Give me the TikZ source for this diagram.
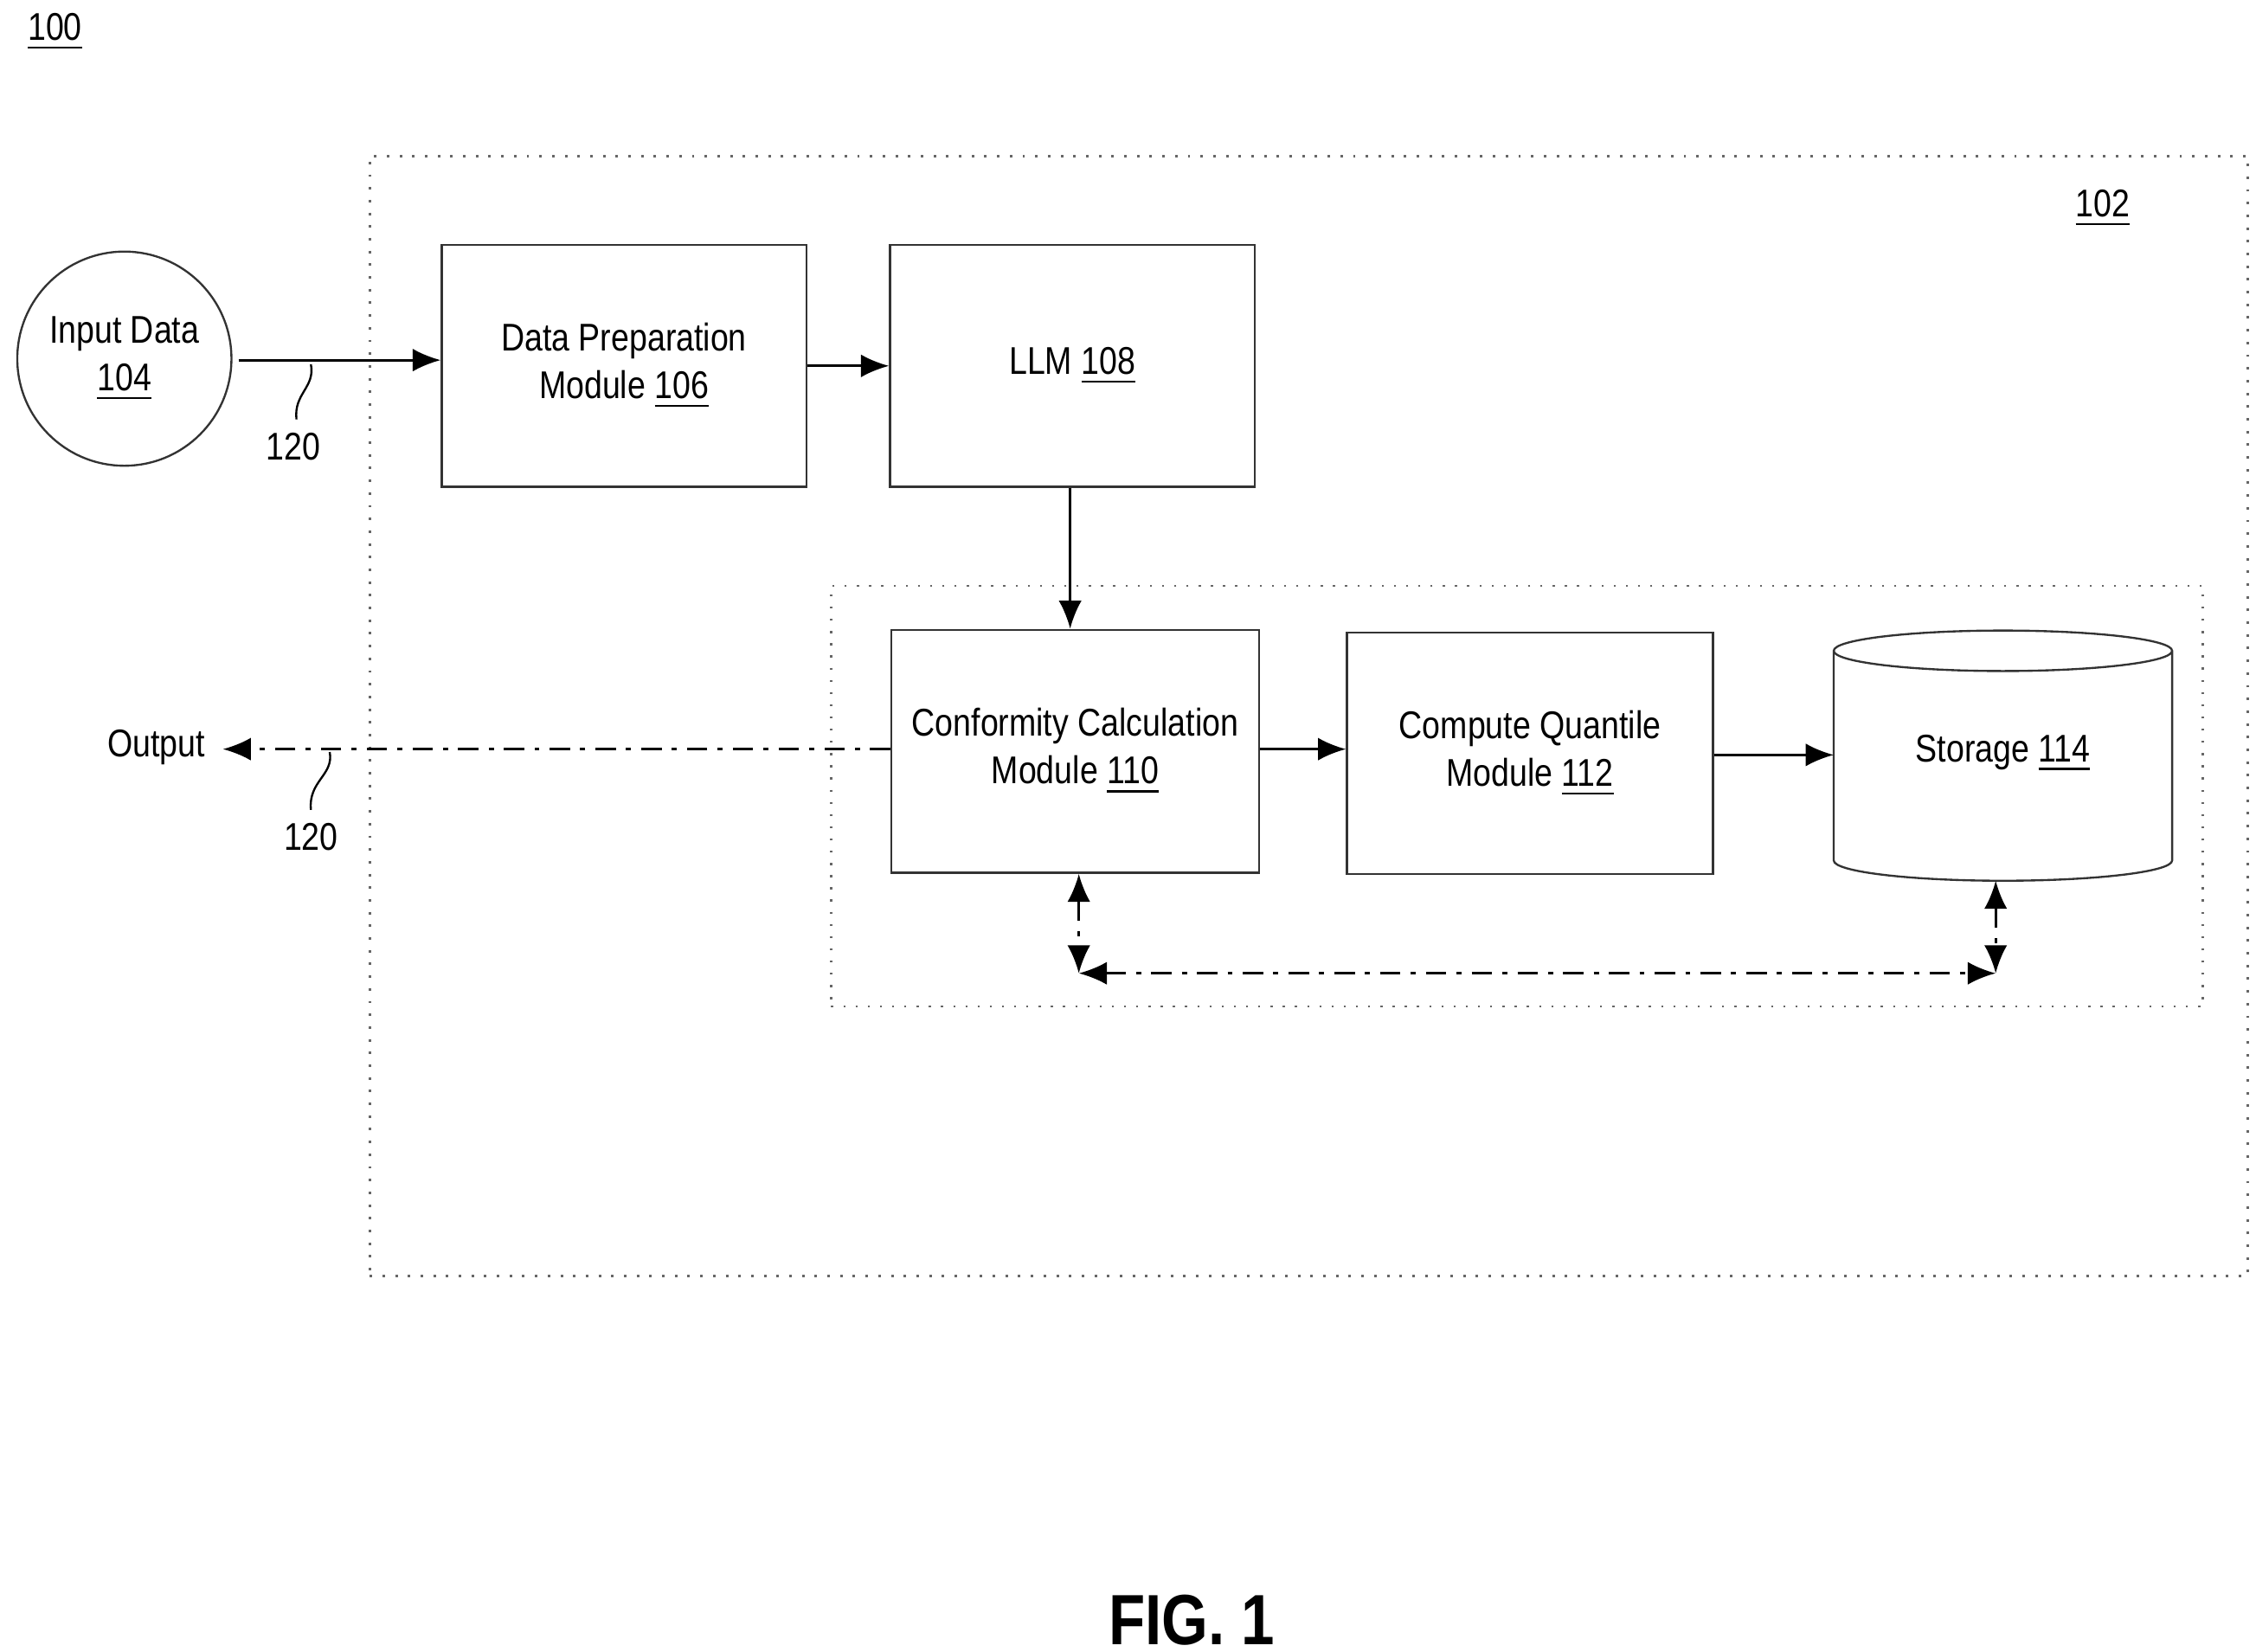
\documentclass[tikz,border=0pt]{standalone}
\usepackage{fontspec}
\setmainfont{Liberation Sans}[FakeStretch=0.84]
\usetikzlibrary{shapes.geometric,arrows.meta}
\begin{document}
\begin{tikzpicture}[x=0.01cm,y=-0.01cm,font=\fontsize{7.6pt}{9.4pt}\selectfont,
 box/.style={draw=black!80,line width=0.4pt,align=center,inner sep=0},
 arr/.style={-{Latex[length=5.5pt,width=4.5pt]},line width=0.5pt},
 dd/.style={line width=0.5pt,dash pattern=on 4pt off 2pt on 1pt off 2pt},
 dbl/.style={dd,{Latex[length=5.5pt,width=4.5pt]}-{Latex[length=5.5pt,width=4.5pt]}}]
\useasboundingbox (0,0) rectangle (1560,1142);
\node (n100) at (38,22) {\underline{100}};
\node[draw=black!60,dotted,line width=0.5pt,minimum width=12.98cm,minimum height=7.74cm] (outer) at (905,495) {};
\node (n102) at (1454,144) {\underline{102}};
\node[draw=black!60,dotted,line width=0.4pt,minimum width=9.48cm,minimum height=2.91cm] (inner) at (1049,550.5) {};
\node[circle,box,minimum size=1.48cm] (in) at (86,248) {Input Data\\\underline{104}};
\node[box,minimum width=2.52cm,minimum height=1.67cm] (dp) at (431.5,253) {Data Preparation\\Module \underline{106}};
\node[box,minimum width=2.52cm,minimum height=1.67cm] (llm) at (741.5,253) {LLM \underline{108}};
\node[box,minimum width=2.54cm,minimum height=1.68cm] (cc) at (743.5,519.5) {Conformity Calculation\\Module \underline{110}};
\node[box,minimum width=2.53cm,minimum height=1.67cm] (cq) at (1058,521) {Compute Quantile\\Module \underline{112}};
\draw[draw=black!80,line width=0.4pt] (1268,450) arc[start angle=180,end angle=360,x radius=117,y radius=-14]
  arc[start angle=0,end angle=180,x radius=117,y radius=-14] -- (1268,595)
  arc[start angle=180,end angle=360,x radius=117,y radius=-14] -- (1502,450);
\node (st) at (1385,521) {Storage \underline{114}};
\coordinate (a0) at (165,249);
\draw[arr] (a0) -- (dp.west|-a0);
\draw[arr] (dp.east|-0,253) -- (llm.west|-0,253);
\draw[arr] (llm.south-|740,0) -- (cc.north-|740,0);
\draw[arr] (cc.east|-0,518) -- (cq.west|-0,518);
\coordinate (s1) at (1268,522);
\draw[arr] (cq.east|-s1) -- (s1);
\node (out) at (108,517) {Output};
\draw[dd,-{Latex[length=5.5pt,width=4.5pt]}] (cc.west|-0,518) -- (out.east|-0,518);
\node (l1) at (203,309) {120};
\node (l2) at (215,579) {120};
\draw[line width=0.4pt] (215,252) .. controls (218,268) and (203,272) .. (205,290);
\draw[line width=0.4pt] (228,520) .. controls (231,536) and (213,540) .. (215,560);
\coordinate (c1) at (746,673); \coordinate (c2) at (1380,673);
\draw[dbl] (cc.south-|c1) -- (c1);
\draw[dbl] (c1) -- (c2);
\draw[dbl] (1380,609) -- (c2);
\node[font=\fontsize{14pt}{16pt}\selectfont\bfseries] (fig) at (824,1120) {FIG. 1};
\end{tikzpicture}
\end{document}
